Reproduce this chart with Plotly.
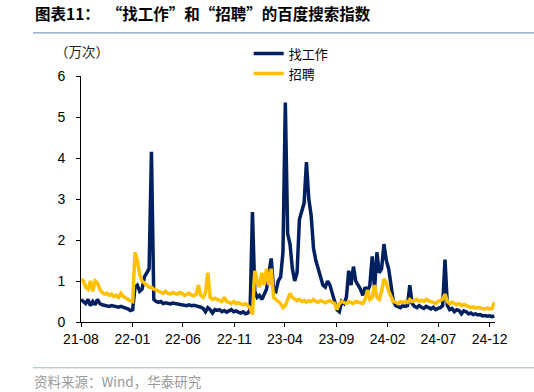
import pandas as pd
import plotly.graph_objects as go

# weekly observations starting 2021-08-01
dates = pd.date_range("2021-08-01", periods=177, freq="7D")

zhao_gongzuo = [
    0.55, 0.50, 0.45, 0.55, 0.40, 0.50, 0.42, 0.55, 0.45,
    0.42, 0.40, 0.40, 0.38, 0.40, 0.38, 0.37, 0.36, 0.38, 0.35, 0.34, 0.32, 0.28,
    0.30,
    0.85, 0.90, 0.75, 0.80, 1.10, 1.20, 1.30, 4.15,
    0.55, 0.50, 0.48, 0.50, 0.45, 0.47, 0.45, 0.44, 0.46, 0.45,
    0.44, 0.45, 0.42, 0.43, 0.40, 0.42, 0.40, 0.41, 0.40,
    0.38, 0.36, 0.33, 0.25, 0.35, 0.30, 0.22, 0.30,
    0.28, 0.30, 0.25, 0.28, 0.24, 0.27, 0.30, 0.25, 0.27, 0.24, 0.22, 0.25, 0.20, 0.22,
    0.30, 2.68, 0.75, 0.60, 0.65, 0.55, 0.70, 0.80, 1.20, 1.55,
    0.80, 0.75, 1.00, 1.10, 1.70, 5.35, 2.15, 1.90, 1.30, 1.00,
    1.20, 2.50, 2.70, 2.90, 3.90, 3.00, 2.60, 1.80, 1.50, 1.30,
    1.10, 0.90, 0.85, 1.00, 0.90, 0.70, 0.55, 0.30, 0.25, 0.50,
    0.45, 0.60, 1.25, 0.90, 1.35, 1.00, 0.90, 0.80, 0.65, 0.85,
    0.75, 0.90, 1.60, 0.80, 1.70, 1.20, 1.30, 1.90, 1.50, 1.30,
    0.90, 0.50, 0.40, 0.38, 0.35, 0.40, 0.38, 0.40, 0.90, 0.45,
    0.38, 0.35, 0.40, 0.36, 0.33, 0.38, 0.35, 0.32, 0.36, 0.30, 0.33, 0.35, 0.40,
    1.52,
    0.40, 0.30, 0.33, 0.25, 0.30, 0.28, 0.20, 0.27, 0.25,
    0.20, 0.22, 0.18, 0.20, 0.17, 0.18,
    0.15, 0.16, 0.14, 0.15, 0.13, 0.15,
]

zhao_pin = [
    1.05, 1.00, 0.85, 0.80, 1.00, 0.75, 1.00, 0.95, 0.80,
    0.72, 0.68, 0.70, 0.65, 0.68, 0.62, 0.65, 0.60, 0.70, 0.62, 0.58, 0.55, 0.52,
    0.50,
    1.70, 1.50, 1.15, 1.00, 0.95, 0.90, 0.85, 0.85, 0.80, 0.78,
    0.75, 0.72, 0.70, 0.75, 0.70, 0.68, 0.72, 0.70,
    0.68, 0.72, 0.70, 0.65, 0.68, 0.70, 0.66, 0.64, 0.67,
    0.90, 0.65, 0.60, 0.70, 1.20, 0.60, 0.55, 0.58,
    0.55, 0.52, 0.50, 0.60, 0.50, 0.48, 0.45, 0.50, 0.45, 0.47, 0.45, 0.42, 0.45, 0.40,
    0.35, 0.18, 1.25, 1.00, 0.85, 1.20, 0.90, 1.30, 0.90, 1.30,
    0.60, 0.55, 0.50, 0.45, 0.35, 0.40, 0.55, 0.70, 0.60, 0.55,
    0.52, 0.55, 0.50, 0.53, 0.48, 0.52, 0.50, 0.55, 0.50, 0.48,
    0.52, 0.50, 0.47, 0.50, 0.52, 0.48, 0.45, 0.30, 0.45,
    0.50, 0.48, 0.45, 0.50, 0.47, 0.45, 0.50, 0.48, 0.46, 0.45,
    0.55, 0.78, 0.55, 0.60, 0.90, 0.60, 0.55, 0.75, 1.05, 0.95,
    0.75, 0.60, 0.50, 0.48, 0.45, 0.50, 0.47, 0.50, 0.48, 0.55,
    0.50, 0.52, 0.55, 0.50, 0.53, 0.50, 0.55, 0.52, 0.50, 0.48, 0.45, 0.50, 0.52, 0.55,
    0.68, 0.50,
    0.45, 0.48, 0.45, 0.42, 0.45, 0.40, 0.43, 0.40,
    0.38, 0.35, 0.37, 0.34, 0.35, 0.33,
    0.33, 0.32, 0.34, 0.32, 0.33, 0.48,
]

tick_dates = ["2021-08-01", "2022-01-01", "2022-06-01", "2022-11-01", "2023-04-01",
              "2023-09-01", "2024-02-01", "2024-07-01", "2024-12-01"]
tick_labels = ["21-08", "22-01", "22-06", "22-11", "23-04", "23-09", "24-02", "24-07", "24-12"]
y_ticks = [0, 1, 2, 3, 4, 5, 6]

NAVY = "#002060"
GOLD = "#FFC000"
LATIN = "Liberation Sans, Arial, Noto Sans CJK SC, sans-serif"
CJK = "Noto Sans CJK SC, sans-serif"

# plot area in page pixels: x 81..495, y 76..322
PW, PH = 414, 246
X0, Y0 = 81, 321.7


def px(x):
    return (x - X0) / PW


def py(y):
    return (Y0 - y) / PH


fig = go.Figure()
fig.add_trace(go.Scatter(x=dates, y=zhao_gongzuo, mode="lines", name="找工作",
                         line=dict(color=NAVY, width=3.5)))
fig.add_trace(go.Scatter(x=dates, y=zhao_pin, mode="lines", name="招聘",
                         line=dict(color=GOLD, width=3.5)))

fig.update_layout(
    width=534, height=392,
    margin=dict(l=81, r=39, t=76, b=70),
    paper_bgcolor="white", plot_bgcolor="white",
    font=dict(family=LATIN, size=14, color="black"),
    showlegend=True,
    legend=dict(x=0.405, y=1.152, xanchor="left", yanchor="top",
                font=dict(family=CJK, size=13, color="black"),
                bgcolor="rgba(0,0,0,0)", tracegroupgap=0),
    xaxis=dict(type="date", range=["2021-08-01", "2024-12-17"],
               tickvals=tick_dates, ticktext=tick_labels,
               showgrid=False, zeroline=False,
               showline=True, linecolor="black", linewidth=1,
               ticks="outside", ticklen=4, tickcolor="black",
               tickfont=dict(family=LATIN, size=14)),
    yaxis=dict(range=[0, 6], tickvals=y_ticks,
               showgrid=False, zeroline=False,
               showline=True, linecolor="black", linewidth=1,
               ticks="outside", ticklen=4, tickcolor="black",
               ticklabelstandoff=8,
               tickfont=dict(family=LATIN, size=14)),
)

# title, unit, source and rules
fig.add_annotation(xref="paper", yref="paper", x=px(33), y=py(13),
                   xanchor="left", yanchor="middle", showarrow=False,
                   text="<b>图表11：  “找工作”和“招聘”的百度搜索指数</b>",
                   font=dict(family=CJK, size=15.5, color="black"))
fig.add_annotation(xref="paper", yref="paper", x=px(53), y=py(51),
                   xanchor="left", yanchor="middle", showarrow=False,
                   text="（万次）", font=dict(family=CJK, size=13.5, color="#222222"))
fig.add_annotation(xref="paper", yref="paper", x=px(32), y=py(381),
                   xanchor="left", yanchor="middle", showarrow=False,
                   text="资料来源：Wind，华泰研究", font=dict(family=CJK, size=13.5, color="#999999"))
fig.add_shape(type="line", xref="paper", yref="paper",
              x0=px(33), x1=px(534), y0=py(32.5), y1=py(32.5),
              line=dict(color="#7f9cc4", width=1.2))
fig.add_shape(type="line", xref="paper", yref="paper",
              x0=px(33), x1=px(534), y0=py(367.5), y1=py(367.5),
              line=dict(color="#9db4d6", width=1))

fig.write_html("out.html", config={"displayModeBar": False},
               post_script="document.body.style.margin='0';")
